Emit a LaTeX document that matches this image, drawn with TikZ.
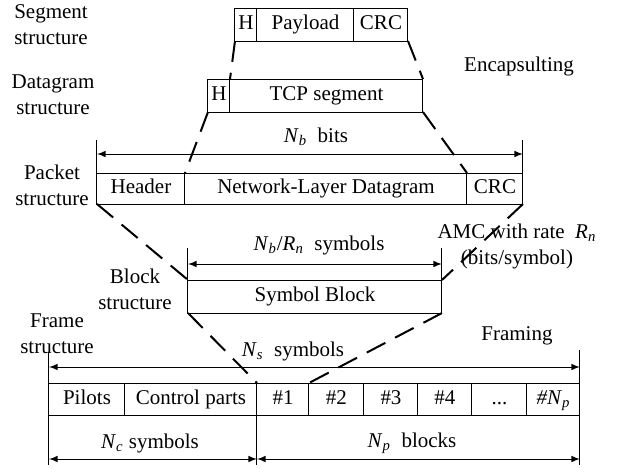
\documentclass[tikz,border=0pt]{standalone}
\usepackage{fontspec}
\setmainfont{Liberation Serif}
\usetikzlibrary{arrows, positioning, calc}
\tikzset{cell/.style={draw, line width=.5pt, inner sep=0pt, outer sep=0pt,
		minimum height=16.5pt, text height=7.2pt, text depth=2.2pt},
	encap/.style={line width=1pt, dash pattern=on 10.5pt off 5.5pt},
	dimline/.style={latex-latex, line width=.5pt},
	tick/.style={line width=.5pt}}
\newcommand{\varsub}[2]{\textit{#1}\textsubscript{\textit{#2}}}

\begin{document}
\begin{tikzpicture}[x=.5pt, y=-.5pt, font=\fontsize{10.5}{13}\selectfont]
	\useasboundingbox (0,0) rectangle (618,468);
	
	% segment
	\node[cell, minimum width=11pt, anchor=north west] (segH) at (235,8) {H};
	\node[cell, minimum width=48.5pt, right=0pt of segH] (segPay) {Payload};
	\node[cell, minimum width=27pt, right=0pt of segPay] (segCRC) {CRC};
	
	% datagram
	\node[cell, minimum width=11pt, anchor=north west] (dgH) at (208,79) {H};
	\node[cell, minimum width=96.5pt, right=0pt of dgH] (dgTCP) {TCP segment};
	
	% packet
	\node[cell, minimum height=15.5pt, minimum width=44pt, anchor=north west] (pkHd) at (97,173) {Header};
	\node[cell, minimum height=15.5pt, minimum width=141pt, right=0pt of pkHd] (pkNL) {Network-Layer Datagram};
	\node[cell, minimum height=15.5pt, minimum width=28pt, right=0pt of pkNL] (pkCRC) {CRC};
	
	% block
	\node[cell, minimum width=127pt, anchor=north west] (blk) at (188,280) {Symbol Block};
	
	% frame
	\node[cell, minimum height=16pt, minimum width=38pt, anchor=north west] (frPil) at (49,383) {Pilots};
	\node[cell, minimum height=16pt, minimum width=66pt, right=0pt of frPil] (frCtl) {Control parts};
	\node[cell, minimum height=16pt, minimum width=26pt, right=0pt of frCtl] (frB1) {\#1};
	\node[cell, minimum height=16pt, minimum width=27.5pt, right=0pt of frB1] (frB2) {\#2};
	\node[cell, minimum height=16pt, minimum width=27pt, right=0pt of frB2] (frB3) {\#3};
	\node[cell, minimum height=16pt, minimum width=27pt, right=0pt of frB3] (frB4) {\#4};
	\node[cell, minimum height=16pt, minimum width=27.5pt, right=0pt of frB4] (frDots) {...};
	\node[cell, minimum height=16pt, minimum width=26.5pt, right=0pt of frDots] (frNp) {\textit{\#N}\textsubscript{\textit{p}}};
	
	% side labels
	\node[align=center] (segLbl) at (51,25) {Segment\\structure};
	\node[align=center] (dgLbl) at (53,95) {Datagram\\structure};
	\node[align=center] (pkLbl) at (52,185) {Packet\\structure};
	\node[align=center] (blkLbl) at (135,289) {Block\\structure};
	\node[align=center] (frLbl) at (57,334) {Frame\\structure};
	\node (encLbl) at (519,66) {Encapsulting};
	\node[align=center] (amcLbl) at (517,246) {AMC with rate~ \varsub{R}{n}\\(bits/symbol)};
	\node (frmLbl) at (517,336) {Framing};
	
	% dimension lines
	\coordinate (nbLt) at ($(pkHd.north west)+(0,-33)$);
	\coordinate (nbRt) at ($(pkCRC.north east)+(0,-33)$);
	\coordinate (nbL) at ($(pkHd.north west)+(0,-19)$);
	\coordinate (nbR) at ($(pkCRC.north east)+(0,-19)$);
	\draw[tick] (pkHd.north west) -- (nbLt);
	\draw[tick] (pkCRC.north east) -- (nbRt);
	\draw[dimline] (nbL) -- (nbR);
	\node (nbLbl) at (316,137) {\varsub{N}{b}~ bits};
	
	\coordinate (rnLt) at ($(blk.north west)+(0,-32)$);
	\coordinate (rnRt) at ($(blk.north east)+(0,-32)$);
	\coordinate (rnL) at ($(blk.north west)+(0,-16)$);
	\coordinate (rnR) at ($(blk.north east)+(0,-16)$);
	\draw[tick] (blk.north west) -- (rnLt);
	\draw[tick] (blk.north east) -- (rnRt);
	\draw[dimline] (rnL) -- (rnR);
	\node (rnLbl) at (319,245) {\varsub{N}{b}/\varsub{R}{n}~ symbols};
	
	\coordinate (nsLt) at ($(frPil.north west)+(0,-31)$);
	\coordinate (nsRt) at ($(frNp.north east)+(0,-33)$);
	\coordinate (nsL) at ($(frPil.north west)+(0,-16)$);
	\coordinate (nsR) at ($(frNp.north east)+(0,-16)$);
	\draw[tick] (frPil.north west) -- (nsLt);
	\draw[tick] (frNp.north east) -- (nsRt);
	\draw[dimline] (nsL) -- (nsR);
	\node (nsLbl) at (293,351) {\varsub{N}{s}~ symbols};
	
	\coordinate (ncLb) at ($(frPil.south west)+(0,50)$);
	\coordinate (cbMb) at ($(frCtl.south east)+(0,50)$);
	\coordinate (npRb) at ($(frNp.south east)+(0,50)$);
	\coordinate (ncL) at ($(frPil.south west)+(0,44)$);
	\coordinate (cbM) at ($(frCtl.south east)+(0,44)$);
	\coordinate (npR) at ($(frNp.south east)+(0,44)$);
	\draw[tick] (frPil.south west) -- (ncLb);
	\draw[tick] (frCtl.south east) -- (cbMb);
	\draw[tick] (frNp.south east) -- (npRb);
	\draw[dimline] (ncL) -- (cbM);
	\draw[dimline] (cbM) -- (npR);
	\node (ncLbl) at (150,443) {\varsub{N}{c} symbols};
	\node (npLbl) at (412,443) {\varsub{N}{p}~ blocks};
	
	% encapsulation
	\draw[encap] (segH.south west) -- (dgTCP.north west);
	\draw[encap] (segCRC.south east) -- (dgTCP.north east);
	\draw[encap] (dgH.south west) -- (pkNL.north west);
	\draw[encap] (dgTCP.south east) -- (pkNL.north east);
	\draw[encap] (pkHd.south west) -- (blk.north west);
	\draw[encap] (pkCRC.south east) -- (blk.north east);
	\draw[encap] (blk.south west) -- (frB1.north west);
	\draw[encap] (blk.south east) -- (frB2.north west);
	
\end{tikzpicture}
\end{document}
